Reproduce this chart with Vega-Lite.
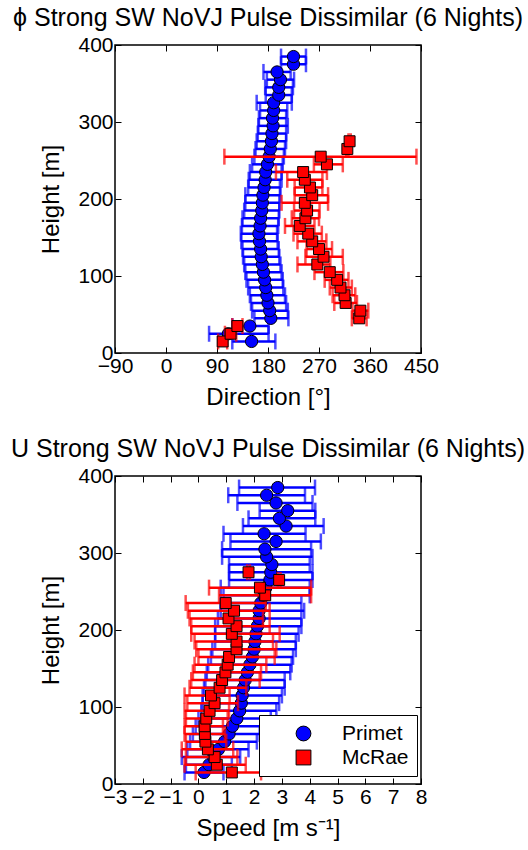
{
  "$schema": "https://vega.github.io/schema/vega-lite/v6.json",
  "background": "white",
  "padding": {"left": 10, "top": 5, "right": 0, "bottom": 0},
  "config": {
    "font": "Liberation Sans",
    "view": {"stroke": "black", "strokeWidth": 1.5},
    "axis": {"grid": false, "domain": false, "tickColor": "black", "tickSize": -6, "tickWidth": 1, "labelFont": "Liberation Sans", "labelFontSize": 21, "labelColor": "black", "labelPadding": 8, "labelOverlap": false, "labelFlush": false, "titleFont": "Liberation Sans", "titleFontSize": 24, "titleFontWeight": "normal", "titleColor": "black"},
    "title": {"font": "Liberation Sans", "fontSize": 25, "fontWeight": "normal", "color": "black", "anchor": "middle", "offset": 3},
    "concat": {"spacing": 26}
  },
  "resolve": {"scale": {"x": "independent", "y": "independent"}, "legend": {"color": "independent", "shape": "independent"}},
  "data": {"values": [
    {"site": "Primet", "h": 15, "dir": 151, "dirLo": 117, "dirHi": 193, "spd": 0.2, "spdLo": -0.5, "spdHi": 0.9},
    {"site": "Primet", "h": 25, "dir": 110, "dirLo": 76, "dirHi": 181, "spd": 0.38, "spdLo": -0.45, "spdHi": 1.2},
    {"site": "Primet", "h": 35, "dir": 148, "dirLo": 117, "dirHi": 181, "spd": 0.55, "spdLo": -0.6, "spdHi": 1.5},
    {"site": "Primet", "h": 45, "dir": 185, "dirLo": 156, "dirHi": 216, "spd": 0.72, "spdLo": -0.4, "spdHi": 1.8},
    {"site": "Primet", "h": 55, "dir": 183, "dirLo": 152, "dirHi": 215, "spd": 0.94, "spdLo": -0.3, "spdHi": 2.1},
    {"site": "Primet", "h": 65, "dir": 180, "dirLo": 150, "dirHi": 212, "spd": 1.1, "spdLo": -0.2, "spdHi": 2.2},
    {"site": "Primet", "h": 75, "dir": 178, "dirLo": 148, "dirHi": 210, "spd": 1.22, "spdLo": -0.1, "spdHi": 2.3},
    {"site": "Primet", "h": 85, "dir": 176, "dirLo": 145, "dirHi": 207, "spd": 1.38, "spdLo": 0.0, "spdHi": 2.6},
    {"site": "Primet", "h": 95, "dir": 174, "dirLo": 142, "dirHi": 206, "spd": 1.48, "spdLo": 0.1, "spdHi": 2.8},
    {"site": "Primet", "h": 105, "dir": 172, "dirLo": 140, "dirHi": 204, "spd": 1.54, "spdLo": 0.15, "spdHi": 2.9},
    {"site": "Primet", "h": 115, "dir": 170, "dirLo": 138, "dirHi": 202, "spd": 1.57, "spdLo": 0.15, "spdHi": 3.0},
    {"site": "Primet", "h": 125, "dir": 168, "dirLo": 136, "dirHi": 200, "spd": 1.62, "spdLo": 0.2, "spdHi": 3.1},
    {"site": "Primet", "h": 135, "dir": 167, "dirLo": 135, "dirHi": 199, "spd": 1.68, "spdLo": 0.25, "spdHi": 3.1},
    {"site": "Primet", "h": 145, "dir": 165, "dirLo": 133, "dirHi": 197, "spd": 1.76, "spdLo": 0.3, "spdHi": 3.3},
    {"site": "Primet", "h": 155, "dir": 164, "dirLo": 132, "dirHi": 196, "spd": 1.85, "spdLo": 0.35, "spdHi": 3.35},
    {"site": "Primet", "h": 165, "dir": 166, "dirLo": 134, "dirHi": 198, "spd": 1.94, "spdLo": 0.45, "spdHi": 3.4},
    {"site": "Primet", "h": 175, "dir": 167, "dirLo": 135, "dirHi": 199, "spd": 2.0, "spdLo": 0.5, "spdHi": 3.5},
    {"site": "Primet", "h": 185, "dir": 169, "dirLo": 138, "dirHi": 200, "spd": 2.03, "spdLo": 0.6, "spdHi": 3.5},
    {"site": "Primet", "h": 195, "dir": 170, "dirLo": 140, "dirHi": 200, "spd": 2.07, "spdLo": 0.6, "spdHi": 3.6},
    {"site": "Primet", "h": 205, "dir": 171, "dirLo": 140, "dirHi": 202, "spd": 2.12, "spdLo": 0.6, "spdHi": 3.7},
    {"site": "Primet", "h": 215, "dir": 173, "dirLo": 145, "dirHi": 201, "spd": 2.18, "spdLo": 0.7, "spdHi": 3.7},
    {"site": "Primet", "h": 225, "dir": 175, "dirLo": 146, "dirHi": 204, "spd": 2.18, "spdLo": 0.8, "spdHi": 3.8},
    {"site": "Primet", "h": 235, "dir": 176, "dirLo": 148, "dirHi": 204, "spd": 2.24, "spdLo": 0.8, "spdHi": 3.7},
    {"site": "Primet", "h": 245, "dir": 179, "dirLo": 152, "dirHi": 206, "spd": 2.36, "spdLo": 0.9, "spdHi": 4.0},
    {"site": "Primet", "h": 255, "dir": 182, "dirLo": 156, "dirHi": 208, "spd": 2.42, "spdLo": 0.8, "spdHi": 4.0},
    {"site": "Primet", "h": 265, "dir": 184, "dirLo": 158, "dirHi": 210, "spd": 2.57, "spdLo": 1.1, "spdHi": 4.1},
    {"site": "Primet", "h": 275, "dir": 186, "dirLo": 160, "dirHi": 212, "spd": 2.6, "spdLo": 1.1, "spdHi": 4.1},
    {"site": "Primet", "h": 285, "dir": 187, "dirLo": 162, "dirHi": 212, "spd": 2.64, "spdLo": 1.1, "spdHi": 4.0},
    {"site": "Primet", "h": 295, "dir": 189, "dirLo": 163, "dirHi": 215, "spd": 2.45, "spdLo": 0.85, "spdHi": 4.1},
    {"site": "Primet", "h": 305, "dir": 188, "dirLo": 164, "dirHi": 212, "spd": 2.39, "spdLo": 0.85, "spdHi": 4.05},
    {"site": "Primet", "h": 315, "dir": 190, "dirLo": 166, "dirHi": 214, "spd": 2.79, "spdLo": 1.15, "spdHi": 4.4},
    {"site": "Primet", "h": 325, "dir": 190, "dirLo": 160, "dirHi": 222, "spd": 2.36, "spdLo": 0.9, "spdHi": 3.85},
    {"site": "Primet", "h": 335, "dir": 199, "dirLo": 176, "dirHi": 222, "spd": 3.15, "spdLo": 1.6, "spdHi": 4.5},
    {"site": "Primet", "h": 345, "dir": 199, "dirLo": 175, "dirHi": 224, "spd": 2.91, "spdLo": 1.8, "spdHi": 4.2},
    {"site": "Primet", "h": 355, "dir": 202, "dirLo": 178, "dirHi": 226, "spd": 3.21, "spdLo": 2.2, "spdHi": 4.2},
    {"site": "Primet", "h": 365, "dir": 196, "dirLo": 172, "dirHi": 220, "spd": 2.79, "spdLo": 1.4, "spdHi": 4.1},
    {"site": "Primet", "h": 375, "dir": 225, "dirLo": 203, "dirHi": 247, "spd": 2.45, "spdLo": 1.07, "spdHi": 3.83},
    {"site": "Primet", "h": 385, "dir": 225, "dirLo": 203, "dirHi": 247, "spd": 2.85, "spdLo": 1.46, "spdHi": 4.19},
    {"site": "McRae", "h": 15, "dir": 100, "dirLo": 92, "dirHi": 108, "spd": 1.2, "spdLo": -0.1, "spdHi": 2.25},
    {"site": "McRae", "h": 25, "dir": 114, "dirLo": 104, "dirHi": 124, "spd": 0.66, "spdLo": -0.5, "spdHi": 1.7},
    {"site": "McRae", "h": 35, "dir": 126, "dirLo": 117, "dirHi": 135, "spd": 0.58, "spdLo": -0.45, "spdHi": 1.4},
    {"site": "McRae", "h": 45, "dir": 341, "dirLo": 328, "dirHi": 354, "spd": 0.34, "spdLo": -0.6, "spdHi": 1.25},
    {"site": "McRae", "h": 55, "dir": 343, "dirLo": 329, "dirHi": 357, "spd": 0.25, "spdLo": -0.45, "spdHi": 1.0},
    {"site": "McRae", "h": 65, "dir": 317, "dirLo": 297, "dirHi": 337, "spd": 0.23, "spdLo": -0.5, "spdHi": 0.95},
    {"site": "McRae", "h": 75, "dir": 315, "dirLo": 294, "dirHi": 334, "spd": 0.22, "spdLo": -0.5, "spdHi": 0.88},
    {"site": "McRae", "h": 85, "dir": 308, "dirLo": 289, "dirHi": 328, "spd": 0.28, "spdLo": -0.45, "spdHi": 1.05},
    {"site": "McRae", "h": 95, "dir": 302, "dirLo": 280, "dirHi": 322, "spd": 0.4, "spdLo": -0.5, "spdHi": 1.1},
    {"site": "McRae", "h": 105, "dir": 289, "dirLo": 262, "dirHi": 313, "spd": 0.58, "spdLo": -0.4, "spdHi": 1.42},
    {"site": "McRae", "h": 115, "dir": 267, "dirLo": 232, "dirHi": 290, "spd": 0.45, "spdLo": -0.5, "spdHi": 1.12},
    {"site": "McRae", "h": 125, "dir": 278, "dirLo": 246, "dirHi": 312, "spd": 0.76, "spdLo": -0.32, "spdHi": 1.72},
    {"site": "McRae", "h": 135, "dir": 270, "dirLo": 248, "dirHi": 293, "spd": 0.85, "spdLo": -0.26, "spdHi": 2.2},
    {"site": "McRae", "h": 145, "dir": 258, "dirLo": 232, "dirHi": 283, "spd": 0.97, "spdLo": -0.2, "spdHi": 2.25},
    {"site": "McRae", "h": 155, "dir": 251, "dirLo": 225, "dirHi": 275, "spd": 1.05, "spdLo": -0.14, "spdHi": 2.44},
    {"site": "McRae", "h": 165, "dir": 236, "dirLo": 210, "dirHi": 262, "spd": 1.1, "spdLo": 0.0, "spdHi": 2.74},
    {"site": "McRae", "h": 175, "dir": 246, "dirLo": 222, "dirHi": 270, "spd": 1.37, "spdLo": -0.08, "spdHi": 2.8},
    {"site": "McRae", "h": 185, "dir": 249, "dirLo": 226, "dirHi": 271, "spd": 1.37, "spdLo": -0.14, "spdHi": 2.68},
    {"site": "McRae", "h": 195, "dir": 245, "dirLo": 204, "dirHi": 286, "spd": 1.2, "spdLo": -0.26, "spdHi": 2.92},
    {"site": "McRae", "h": 205, "dir": 258, "dirLo": 227, "dirHi": 286, "spd": 1.37, "spdLo": -0.26, "spdHi": 2.56},
    {"site": "McRae", "h": 215, "dir": 254, "dirLo": 227, "dirHi": 276, "spd": 1.08, "spdLo": -0.32, "spdHi": 2.32},
    {"site": "McRae", "h": 225, "dir": 245, "dirLo": 214, "dirHi": 276, "spd": 1.28, "spdLo": -0.38, "spdHi": 2.56},
    {"site": "McRae", "h": 235, "dir": 242, "dirLo": 194, "dirHi": 284, "spd": 0.98, "spdLo": -0.46, "spdHi": 2.42},
    {"site": "McRae", "h": 245, "dir": 284, "dirLo": 261, "dirHi": 312, "spd": 2.4, "spdLo": 0.74, "spdHi": 4.05},
    {"site": "McRae", "h": 255, "dir": 273, "dirLo": 103, "dirHi": 442, "spd": 2.21, "spdLo": 0.38, "spdHi": 4.05},
    {"site": "McRae", "h": 265, "dir": 320, "dirLo": 318, "dirHi": 322, "spd": 2.9, "spdLo": 2.85, "spdHi": 2.95},
    {"site": "McRae", "h": 275, "dir": 324, "dirLo": 322, "dirHi": 326, "spd": 1.8, "spdLo": 1.75, "spdHi": 1.85}
  ]},
  "vconcat": [
    {
      "title": "ϕ Strong SW NoVJ Pulse Dissimilar (6 Nights)",
      "width": 306,
      "height": 308,
      "resolve": {"axis": {"x": "independent", "y": "independent"}},
      "layer": [
        {
          "transform": [{"filter": "datum.site == 'Primet'"}],
          "mark": {"type": "errorbar", "color": "#0000ff", "thickness": 2.5, "ticks": {"size": 16, "thickness": 2.5, "color": "#0000ff"}},
          "encoding": {
            "x": {"field": "dirLo", "type": "quantitative", "scale": {"domain": [-90, 450], "nice": false, "zero": false}, "axis": null},
            "x2": {"field": "dirHi"},
            "y": {"field": "h", "type": "quantitative", "scale": {"domain": [0, 400], "nice": false}, "axis": null}
          }
        },
        {
          "transform": [{"filter": "datum.site == 'Primet'"}],
          "mark": {"type": "point", "filled": true, "shape": "circle", "size": 150, "stroke": "black", "strokeWidth": 1, "opacity": 1, "color": "#0000ff"},
          "encoding": {
            "x": {"field": "dir", "type": "quantitative", "axis": {"orient": "bottom", "title": "Direction [°]", "values": [-90, 0, 90, 180, 270, 360, 450], "titlePadding": 9}},
            "y": {"field": "h", "type": "quantitative", "axis": {"orient": "left", "title": "Height [m]", "values": [0, 100, 200, 300, 400], "titlePadding": 14}}
          }
        },
        {
          "transform": [{"filter": "datum.site == 'McRae'"}],
          "mark": {"type": "errorbar", "color": "#ff0000", "thickness": 2.5, "ticks": {"size": 16, "thickness": 2.5, "color": "#ff0000"}},
          "encoding": {
            "x": {"field": "dirLo", "type": "quantitative", "axis": null},
            "x2": {"field": "dirHi"},
            "y": {"field": "h", "type": "quantitative", "axis": null}
          }
        },
        {
          "transform": [{"filter": "datum.site == 'McRae'"}],
          "mark": {"type": "point", "filled": true, "shape": "square", "size": 120, "stroke": "black", "strokeWidth": 1, "opacity": 1, "color": "#ff0000"},
          "encoding": {
            "x": {"field": "dir", "type": "quantitative", "axis": {"orient": "top", "labels": false, "title": null, "values": [-90, 0, 90, 180, 270, 360, 450]}},
            "y": {"field": "h", "type": "quantitative", "axis": {"orient": "right", "labels": false, "title": null, "values": [0, 100, 200, 300, 400]}}
          }
        }
      ]
    },
    {
      "title": "U Strong SW NoVJ Pulse Dissimilar (6 Nights)",
      "width": 306,
      "height": 308,
      "resolve": {"axis": {"x": "independent", "y": "independent"}},
      "layer": [
        {
          "transform": [{"filter": "datum.site == 'Primet'"}],
          "mark": {"type": "errorbar", "color": "#0000ff", "thickness": 2.5, "ticks": {"size": 16, "thickness": 2.5, "color": "#0000ff"}},
          "encoding": {
            "x": {"field": "spdLo", "type": "quantitative", "scale": {"domain": [-3, 8], "nice": false, "zero": false}, "axis": null},
            "x2": {"field": "spdHi"},
            "y": {"field": "h", "type": "quantitative", "scale": {"domain": [0, 400], "nice": false}, "axis": null}
          }
        },
        {
          "transform": [{"filter": "datum.site == 'Primet'"}],
          "mark": {"type": "point", "filled": true, "size": 150, "stroke": "black", "strokeWidth": 1, "opacity": 1},
          "encoding": {
            "x": {"field": "spd", "type": "quantitative", "axis": {"orient": "bottom", "title": "Speed [m s⁻¹]", "values": [-3, -2, -1, 0, 1, 2, 3, 4, 5, 6, 7, 8], "titlePadding": 9}},
            "y": {"field": "h", "type": "quantitative", "axis": {"orient": "left", "title": "Height [m]", "values": [0, 100, 200, 300, 400], "titlePadding": 14}},
            "color": {"field": "site", "type": "nominal", "scale": {"domain": ["Primet", "McRae"], "range": ["#0000ff", "#ff0000"]}, "legend": {"orient": "none", "legendX": 144, "legendY": 239, "title": null, "padding": 8, "strokeColor": "black", "fillColor": "white", "symbolSize": 220, "symbolStrokeColor": "black", "symbolStrokeWidth": 1, "symbolOffset": 26, "labelOffset": 28, "labelFontSize": 21, "labelFont": "Liberation Sans", "labelColor": "black", "rowPadding": 2}},
            "shape": {"field": "site", "type": "nominal", "scale": {"domain": ["Primet", "McRae"], "range": ["circle", "square"]}, "legend": {"orient": "none", "legendX": 144, "legendY": 239, "title": null, "padding": 8, "strokeColor": "black", "fillColor": "white", "symbolSize": 220, "symbolStrokeColor": "black", "symbolStrokeWidth": 1, "symbolOffset": 26, "labelOffset": 28, "labelFontSize": 21, "labelFont": "Liberation Sans", "labelColor": "black", "rowPadding": 2}}
          }
        },
        {
          "transform": [{"filter": "datum.site == 'McRae'"}],
          "mark": {"type": "errorbar", "color": "#ff0000", "thickness": 2.5, "ticks": {"size": 16, "thickness": 2.5, "color": "#ff0000"}},
          "encoding": {
            "x": {"field": "spdLo", "type": "quantitative", "axis": null},
            "x2": {"field": "spdHi"},
            "y": {"field": "h", "type": "quantitative", "axis": null}
          }
        },
        {
          "transform": [{"filter": "datum.site == 'McRae'"}],
          "mark": {"type": "point", "filled": true, "size": 120, "stroke": "black", "strokeWidth": 1, "opacity": 1},
          "encoding": {
            "x": {"field": "spd", "type": "quantitative", "axis": {"orient": "top", "labels": false, "title": null, "values": [-3, -2, -1, 0, 1, 2, 3, 4, 5, 6, 7, 8]}},
            "y": {"field": "h", "type": "quantitative", "axis": {"orient": "right", "labels": false, "title": null, "values": [0, 100, 200, 300, 400]}},
            "color": {"field": "site", "type": "nominal"},
            "shape": {"field": "site", "type": "nominal"}
          }
        }
      ]
    }
  ]
}
